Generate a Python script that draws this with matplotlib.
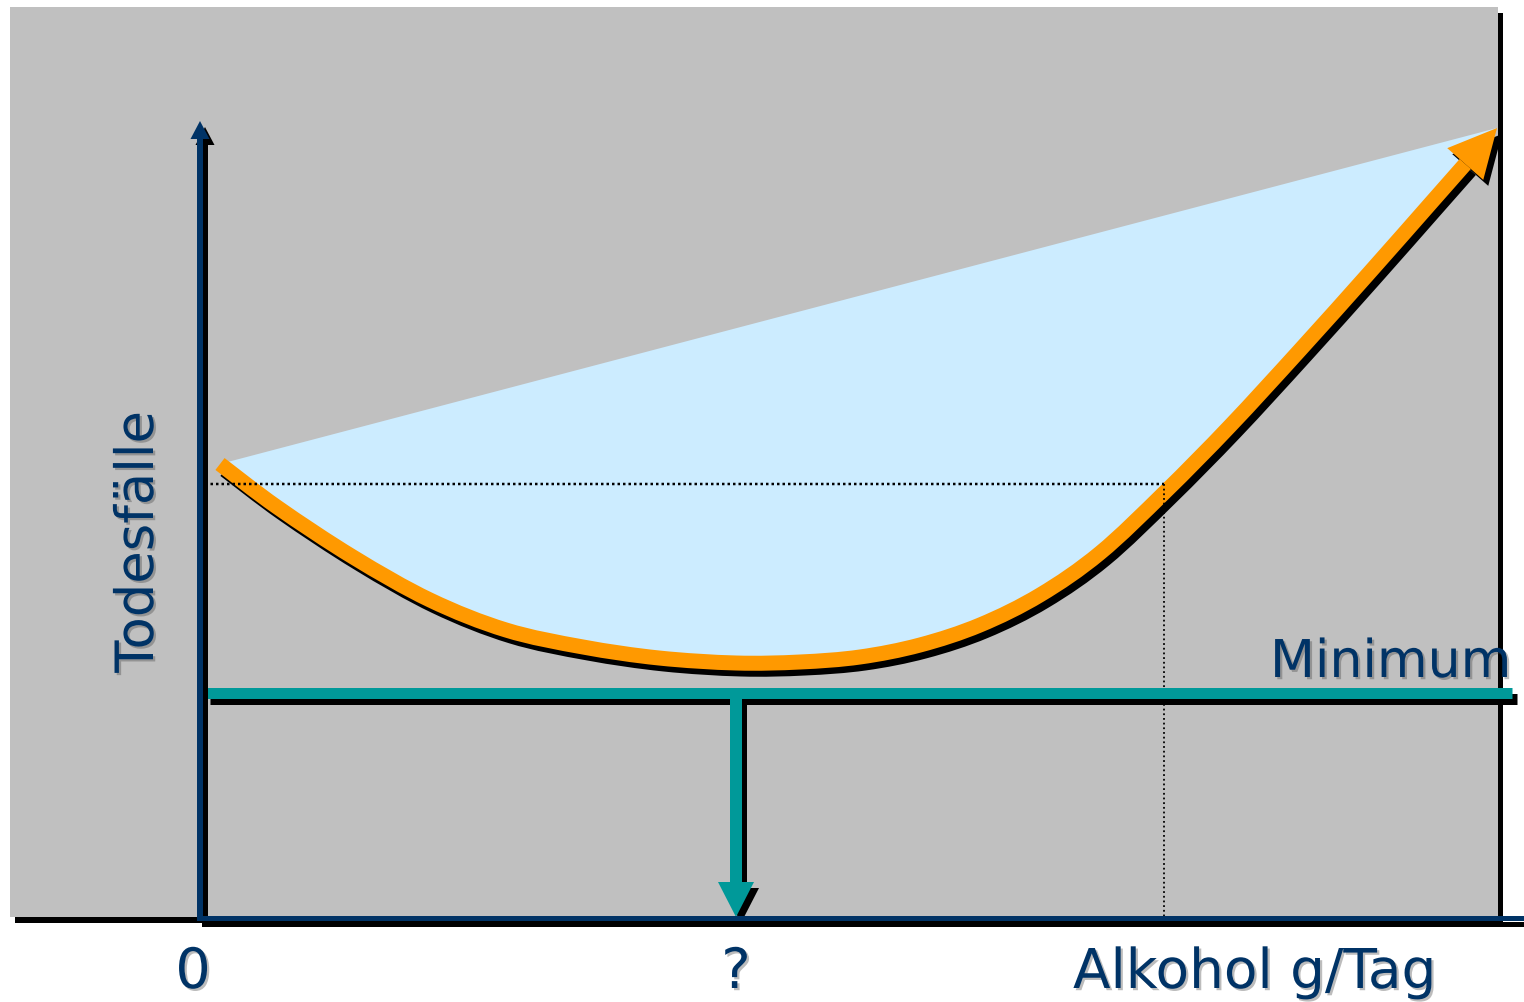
import numpy as np
import matplotlib
matplotlib.use("Agg")
import matplotlib.pyplot as plt
from matplotlib.path import Path
from matplotlib.patches import PathPatch, Polygon, Rectangle
from matplotlib import transforms
import matplotlib.patheffects as pe

# J-curve: deaths vs. alcohol per day (schematic units, origin at the axes corner)
alcohol = [20, 77, 153, 230, 306, 383, 459, 536, 600, 660, 720, 780, 840, 900,
           965, 1030, 1100, 1170, 1230]
deaths = [454, 411, 361, 318, 288, 271, 260, 255, 256, 261, 273, 293, 323, 365,
          426, 492, 568, 646, 714]
arrow_tip = (1297, 790)
min_level = 225          # "Minimum" line
ref_level = 434          # death level of abstainers (dotted)
ref_cross = 964          # alcohol where the curve reaches that level again
x_labels = ["0", "?", "Alkohol g/Tag"]
y_label = "Todesfälle"

NAVY, TEAL, ORANGE = "#003366", "#009999", "#FF9900"
SKY, GREY = "#CCECFF", "#C0C0C0"
PX = 0.72  # points per pixel at dpi 100

fig = plt.figure(figsize=(15.24, 10.02), dpi=100)
ax = fig.add_axes([0, 0, 1, 1])
ax.set_xlim(-200, 1324)
ax.set_ylim(-84, 918)
ax.axis("off")
sh = transforms.offset_copy(ax.transData, fig=fig, x=5, y=-6, units="dots")


def smooth(xs, ys):
    """Catmull-Rom through the points, as cubic Bezier segments."""
    P = np.column_stack([xs, ys]).astype(float)
    verts, codes = [P[0]], [Path.MOVETO]
    for i in range(len(P) - 1):
        p0 = P[i - 1] if i > 0 else P[i]
        p3 = P[i + 2] if i + 2 < len(P) else P[i + 1]
        verts += [P[i] + (P[i + 1] - p0) / 6, P[i + 1] - (p3 - P[i]) / 6, P[i + 1]]
        codes += [Path.CURVE4] * 3
    return np.array(verts), codes


def head(tip, base_from, length, width):
    tip = np.asarray(tip, float)
    d = tip - np.asarray(base_from, float)
    d /= np.hypot(*d)
    n = np.array([-d[1], d[0]])
    base = tip - d * length
    return base, [tip, base + n * width / 2, base - n * width / 2]


# grey panel with its drop shadow
ax.add_patch(Rectangle((-190, 1), 1488, 910, fc="k", ec="none", transform=sh, zorder=0))
ax.add_patch(Rectangle((-190, 1), 1488, 910, fc=GREY, ec="none", zorder=1))

# curve body ends at the arrow-head base
base, tri = head(arrow_tip, (alcohol[-1], deaths[-1]), 48, 48)
cv, cc = smooth(alcohol + [base[0]], deaths + [base[1]])
body = Path(cv, cc)

# light blue area between the curve and the straight line to the tip
fill_v = np.vstack([cv, [arrow_tip, cv[0], cv[0]]])
fill_c = cc + [Path.LINETO, Path.LINETO, Path.CLOSEPOLY]
ax.add_patch(PathPatch(Path(fill_v, fill_c), fc=SKY, ec="none", zorder=2))

for tr, col, z in [(sh, "k", 3), (ax.transData, ORANGE, 4)]:
    ax.add_patch(PathPatch(body, fill=False, ec=col, lw=15 * PX, capstyle="butt",
                           joinstyle="round", transform=tr, zorder=z))
    ax.add_patch(Polygon(tri, closed=True, fc=col, ec="none", transform=tr, zorder=z))

# dotted reference lines
ax.plot([5, ref_cross], [ref_level, ref_level], color="k", lw=2.5 * PX,
        ls=(0, (1, 1.2)), zorder=6)
ax.plot([ref_cross, ref_cross], [ref_level, 0], color="k", lw=1.8 * PX,
        ls=(0, (1, 1.6)), zorder=6)

# minimum line and the arrow down to the x axis
x_min = alcohol[int(np.argmin(deaths))]
for tr, col, z in [(sh, "k", 7), (ax.transData, TEAL, 8)]:
    ax.plot([5, 1312], [min_level, min_level], color=col, lw=11 * PX,
            solid_capstyle="butt", transform=tr, zorder=z)
    ax.plot([x_min, x_min], [min_level, 36], color=col, lw=12 * PX,
            solid_capstyle="butt", transform=tr, zorder=z)
    _, t2 = head((x_min, 1), (x_min, min_level), 35, 36)
    ax.add_patch(Polygon(t2, closed=True, fc=col, ec="none", transform=tr, zorder=z))

# axes
for tr, col, z in [(sh, "k", 9), (ax.transData, NAVY, 10)]:
    ax.plot([0, 1324], [0, 0], color=col, lw=5 * PX, solid_capstyle="butt",
            transform=tr, zorder=z)
    ax.plot([0, 0], [0, 780], color=col, lw=6 * PX, solid_capstyle="projecting",
            transform=tr, zorder=z)
    _, t3 = head((0, 797), (0, 0), 18, 19)
    ax.add_patch(Polygon(t3, closed=True, fc=col, ec="none", transform=tr, zorder=z))

shadow = [pe.SimplePatchShadow(offset=(1.6, -1.6), shadow_rgbFace="0.25", alpha=0.35),
          pe.Normal()]
txt = dict(color=NAVY, family="DejaVu Sans", path_effects=shadow, zorder=12)
ax.text(-62, 376, y_label, rotation=90, ha="center", va="center", fontsize=38, **txt)
ax.text(1070, 241, "Minimum", ha="left", va="baseline", fontsize=37.5, **txt)
ax.text(-7, -70, x_labels[0], ha="center", va="baseline", fontsize=40, **txt)
ax.text(x_min, -70, x_labels[1], ha="center", va="baseline", fontsize=40, **txt)
ax.text(873, -70, x_labels[2], ha="left", va="baseline", fontsize=39.5, **txt)

fig.savefig("out.png", dpi=100, facecolor="white")
